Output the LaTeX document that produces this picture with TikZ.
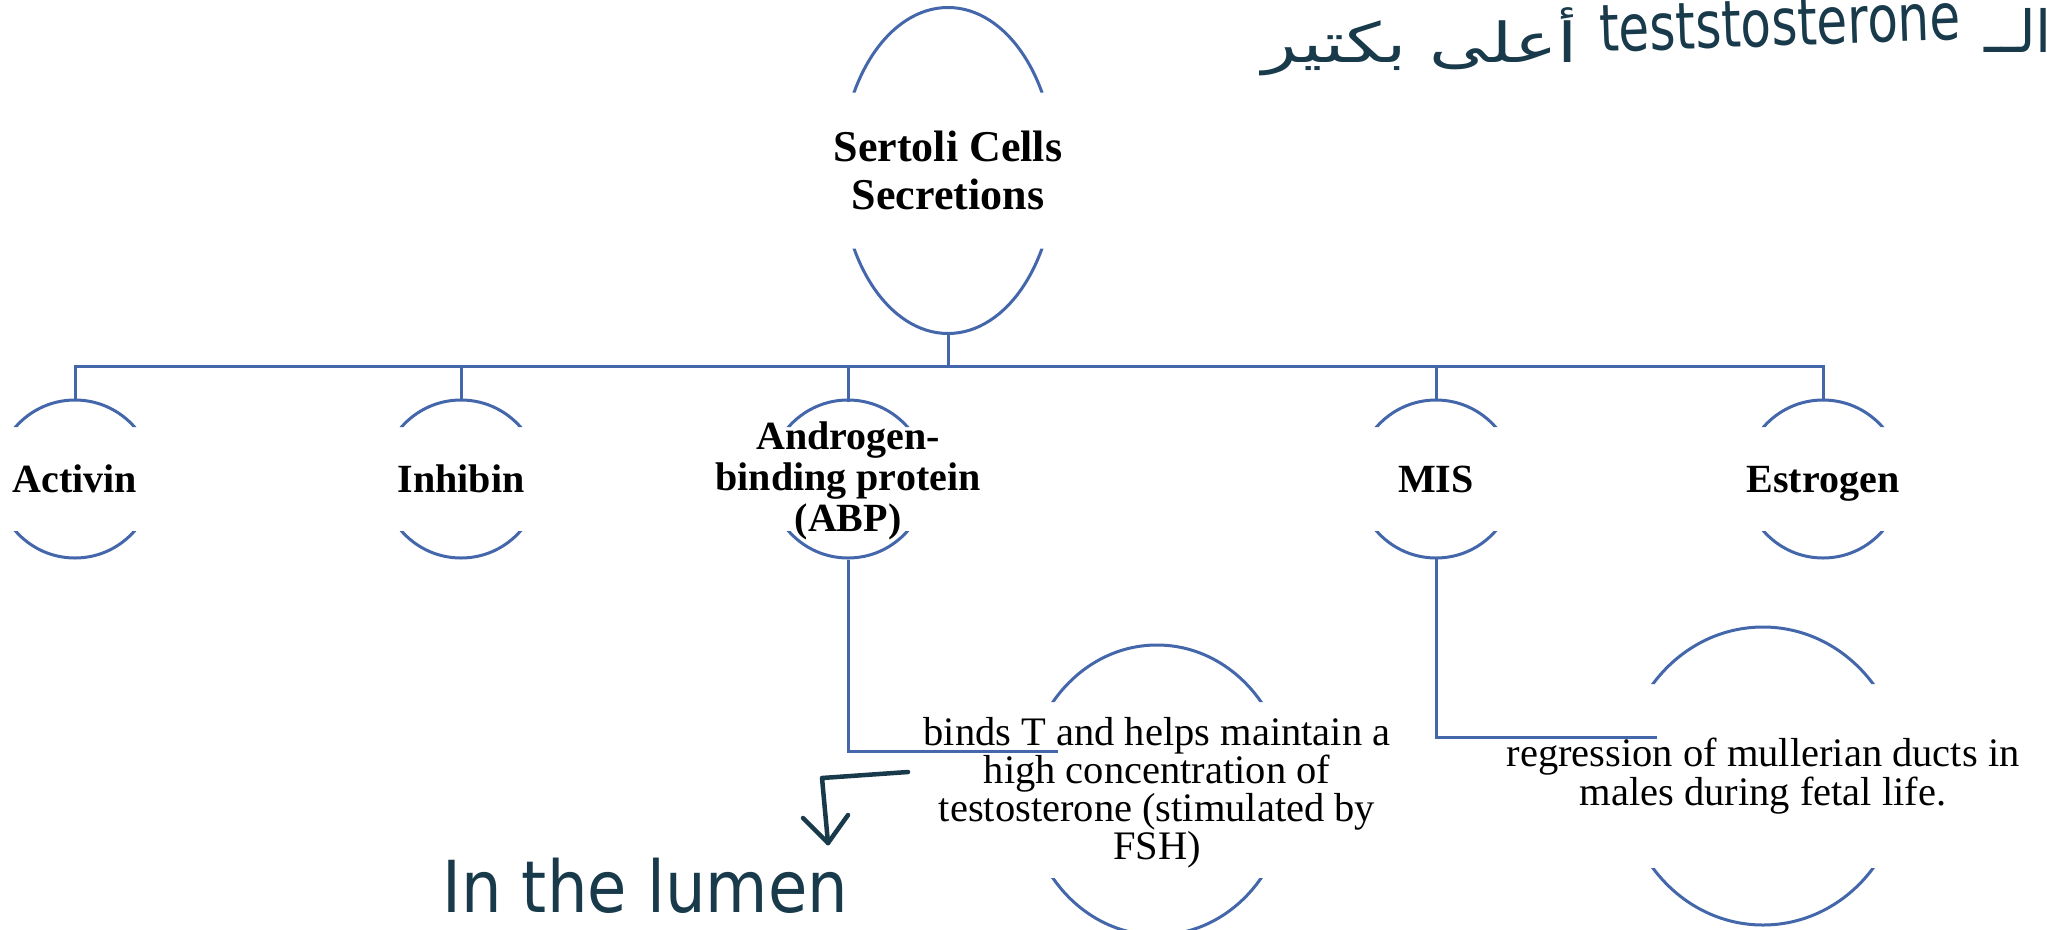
\documentclass[tikz,border=0pt]{standalone}
\usepackage{fontspec}
\setmainfont{Liberation Serif}
\newfontfamily\handfont{DejaVu Sans}
\newfontfamily\arabicfont[Script=Arabic]{DejaVu Sans}
\TeXXeTstate=1
\definecolor{lineblue}{RGB}{68,102,170}
\definecolor{handink}{RGB}{24,58,74}
\tikzset{
  bubble/.style={rectangle, draw=none, inner sep=0pt, align=center, text=black},
  toptext/.style={font=\fontsize{44}{48}\selectfont\bfseries},
  childtext/.style={font=\fontsize{40}{41}\selectfont\bfseries},
  bindstext/.style={font=\fontsize{40.5}{38}\selectfont},
  regrtext/.style={font=\fontsize{40.5}{36}\selectfont},
  conn/.style={draw=lineblue, line width=3pt},
  arcline/.style={draw=lineblue, line width=3pt},
  hand/.style={text=handink, inner sep=0pt},
  handline/.style={draw=handink, line width=4.5pt, line cap=round, line join=round},
}
% cx, cy, a, b, half band
\newcommand{\ovalarcs}[5]{%
  \begin{scope}
    \clip (#1-#3-6,#2-#4-6) rectangle (#1+#3+6,#2-#5)
          (#1-#3-6,#2+#5) rectangle (#1+#3+6,#2+#4+6);
    \draw[arcline] (#1,#2) ellipse [x radius=#3pt, y radius=#4pt];
  \end{scope}}
\begin{document}
\begin{tikzpicture}[x=1pt,y=-1pt]
\useasboundingbox (0,0) rectangle (2047,929);
\fill[white] (0,0) rectangle (2047,929);

% ellipse outlines (clipped around text)
\ovalarcs{948}{170.5}{107}{163}{78}
\ovalarcs{75}{479}{79}{79}{52}
\ovalarcs{461}{479}{79}{79}{52}
\ovalarcs{848}{479}{79}{79}{52}
\ovalarcs{1436}{479}{79}{79}{52}
\ovalarcs{1823}{479}{79}{79}{52}
\ovalarcs{1157}{790}{131}{145}{88}
\ovalarcs{1763}{776}{140}{149}{92}

% nodes
\node[bubble, toptext, minimum width=214pt, minimum height=326pt] (root) at (948,170.5) {Sertoli Cells\\Secretions};
\node[bubble, childtext, minimum width=158pt, minimum height=158pt] (activin) at (75,479) {Activin};
\node[bubble, childtext, minimum width=158pt, minimum height=158pt] (inhibin) at (461,479) {Inhibin};
\node[bubble, childtext, minimum width=158pt, minimum height=158pt] (abp) at (848,481) {Androgen-\\binding protein\\(ABP)};
\node[bubble, childtext, minimum width=158pt, minimum height=158pt] (mis) at (1436,479) {MIS};
\node[bubble, childtext, minimum width=158pt, minimum height=158pt, text depth=0pt] (estrogen) at (1823,479) {Estrogen};
\node[bubble, bindstext, minimum width=262pt, minimum height=290pt] (binds) at (1157,793) {binds T and helps maintain a\\high concentration of\\testosterone (stimulated by\\FSH)};
\node[bubble, regrtext, minimum width=280pt, minimum height=298pt] (regr) at (1763,776) {regression of mullerian ducts in\\males during fetal life.};

% connectors
\coordinate (bus) at (948,366);
\draw[conn] (root.south) -- (bus);
\draw[conn] (activin.north) |- (bus) -| (estrogen.north);
\draw[conn] (inhibin.north) -- (inhibin.north |- bus);
\draw[conn] (abp.north) -- (abp.north |- bus);
\draw[conn] (mis.north) -- (mis.north |- bus);
\coordinate (bindsin) at (1058,751);
\coordinate (regrin) at (1657,737);
\draw[conn] (abp.south) |- (bindsin);
\draw[conn] (mis.south) |- (regrin);

% handwritten notes
\node[hand, font=\handfont\fontsize{64}{64}\selectfont, anchor=base west] (lumen) at (442,912) {\scalebox{1}[1.12]{In the lumen}};
\coordinate (hookstart) at (908,772);
\coordinate (hookbend) at (822,778);
\coordinate (hooktip) at (828,843);
\draw[handline] (hookstart) -- (hookbend) -- (hooktip);
\draw[handline] (hooktip) -- ++(-25,-25);
\draw[handline] (hooktip) -- ++(20,-28);

\node[hand, font=\arabicfont\fontsize{55}{55}\selectfont, anchor=base east] (arnote) at (1578,62) {\scalebox{1.32}[1]{\beginR أعلى بكتير\endR}};
\node[hand, font=\handfont\fontsize{50}{50}\selectfont, anchor=base west, rotate=2] (tnote) at (1600,52) {\scalebox{1}[1.3]{teststosterone}};
\node[hand, font=\arabicfont\fontsize{58}{58}\selectfont, anchor=base east] (alnote) at (2052,52) {\beginR الــ\endR};
\end{tikzpicture}
\end{document}
